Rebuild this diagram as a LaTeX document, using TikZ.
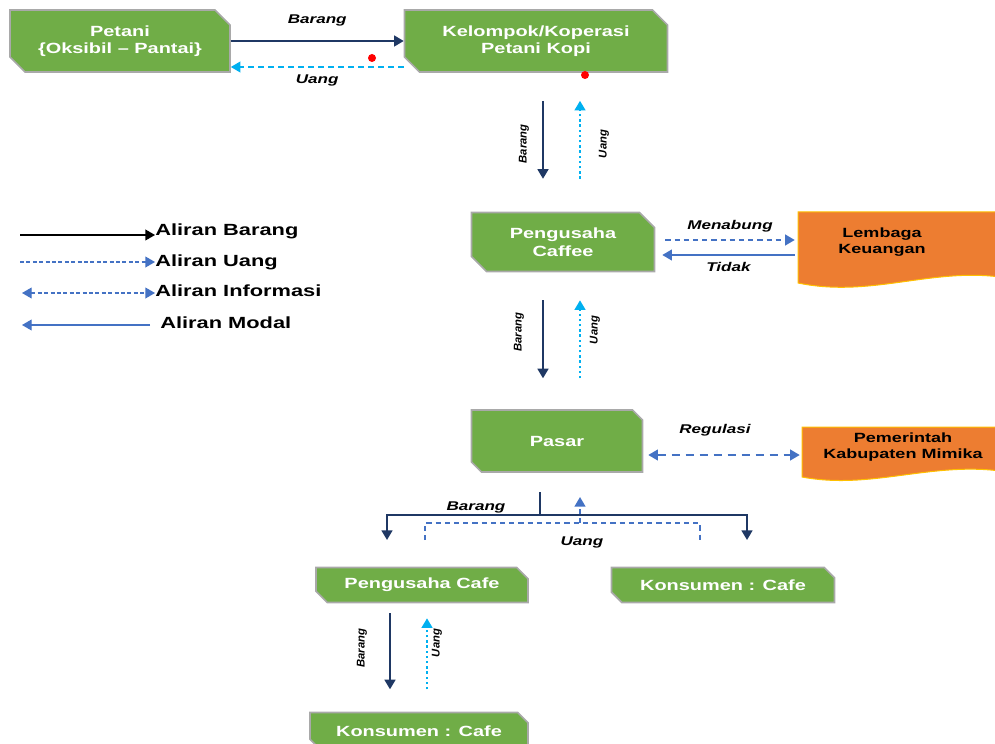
\documentclass[tikz,border=0pt]{standalone}
\usepackage{fontspec}
\setmainfont[FakeStretch=1.35]{Liberation Sans}
\newfontfamily\narrowfont{Liberation Sans}
\usetikzlibrary{shapes.misc,arrows.meta,calc,backgrounds}
\definecolor{boxgreen}{HTML}{70AD47}
\definecolor{boxgray}{HTML}{A9A9A9}
\definecolor{boxorange}{HTML}{ED7D31}
\definecolor{boxyellow}{HTML}{FFC000}
\definecolor{navy}{HTML}{1F3864}
\definecolor{cyanline}{HTML}{00B0F0}
\definecolor{blueline}{HTML}{4472C4}
\tikzset{
  greenbox/.style={chamfered rectangle, chamfered rectangle corners={north east,south west},
    chamfered rectangle xsep=2.5mm, fill=boxgreen, draw=boxgray, line width=0.4mm,
    text=white, font=\fontsize{10.5}{12.5}\selectfont\bfseries, align=center, inner sep=0pt},
  orangetext/.style={font=\fontsize{9.5}{11.5}\selectfont\bfseries, align=center, inner sep=0pt},
  docbox/.style={fill=boxorange, draw=boxyellow, line width=0.25mm},
  tip/.style={-{Triangle[length=2.4mm,width=2.7mm]}},
  barang/.style={draw=navy, line width=0.5mm, tip},
  uang/.style={draw=cyanline, line width=0.4mm, dash pattern=on 1.5mm off 1mm, tip},
  uangdot/.style={draw=cyanline, line width=0.5mm, dash pattern=on 0.6mm off 0.7mm, tip},
  info/.style={draw=blueline, line width=0.4mm, dash pattern=on 1.3mm off 1mm,
    {Triangle[length=2.4mm,width=2.7mm]}-{Triangle[length=2.4mm,width=2.7mm]}},
  modal/.style={draw=blueline, line width=0.4mm, tip},
  flowlabel/.style={font=\fontsize{9}{10}\selectfont\bfseries\itshape, inner sep=0pt},
  sidelabel/.style={font=\narrowfont\fontsize{8}{9}\selectfont\bfseries\itshape, rotate=90, inner sep=0pt},
  legendtext/.style={font=\fontsize{11.5}{13}\selectfont\bfseries, anchor=west, inner sep=0pt},
}
\begin{document}
\begin{tikzpicture}[x=0.25mm,y=-0.25mm]
\useasboundingbox (0,0) rectangle (995,744);
% boxes
\node[greenbox, minimum width=55mm, minimum height=15.5mm] (petani) at (120,41) {Petani\\\{Oksibil – Pantai\}};
\node[greenbox, minimum width=65.75mm, minimum height=15.5mm] (kelompok) at (536,41) {Kelompok/Koperasi\\Petani Kopi};
\node[greenbox, minimum width=45.75mm, minimum height=14.75mm] (caffee) at (563,242) {Pengusaha\\Caffee};
\node[greenbox, minimum width=42.75mm, minimum height=15.5mm] (pasar) at (557,441) {Pasar};
\node[greenbox, chamfered rectangle xsep=1.6mm, minimum width=53mm, minimum height=8.75mm] (cafe) at (422,585) {Pengusaha Cafe};
\node[greenbox, chamfered rectangle xsep=1.6mm, minimum width=55.75mm, minimum height=8.75mm] (konsumen) at (723,585) {Konsumen : Cafe};
\node[greenbox, chamfered rectangle xsep=1.6mm, minimum width=54.5mm, minimum height=9.25mm] (konsumen2) at (419,731) {Konsumen : Cafe};
\node[orangetext, minimum width=42mm, minimum height=15mm] (lembaga) at (882,242) {Lembaga\\Keuangan};
\node[orangetext, minimum width=50.5mm, minimum height=12mm] (pemerintah) at (903,447) {Pemerintah\\Kabupaten Mimika};
\begin{scope}[on background layer]
  \draw[docbox] (798,212) -- (1000,212) -- (1000,277) .. controls (930,268) and (870,298) .. (798,283) -- cycle;
  \draw[docbox] (802,427) -- (1000,427) -- (1000,471) .. controls (930,462) and (870,490) .. (802,477) -- cycle;
\end{scope}

% petani - kelompok
\draw[barang] (petani.east) -- node[flowlabel, above=10pt] {Barang} (kelompok.west);
\draw[uang] ($(kelompok.west)+(0,26)$) -- node[flowlabel, below=5pt] {Uang} ($(petani.east)+(0,26)$);
\fill[red] (372,58) circle[radius=1mm];
\fill[red] (585,75) circle[radius=1mm];

% kelompok - caffee
\draw[barang] (kelompok.south) ++(7,28) -- ++(0,78);
\draw[uangdot] (kelompok.south) ++(44,106) -- ++(0,-78);
\node[sidelabel] (brg1) at (524,144) {Barang};
\node[sidelabel] (ung1) at (604,144) {Uang};

% caffee - lembaga
\draw[info, tip] ($(caffee.east)+(10,-2)$) -- node[flowlabel, above=5pt] {Menabung} ($(lembaga.west)+(-3,-2)$);
\draw[modal] ($(lembaga.west)+(-3,13)$) -- node[flowlabel, below=5pt] {Tidak} ($(caffee.east)+(7,13)$);

% caffee - pasar
\draw[barang] (caffee.south) ++(-20,28) -- ++(0,78);
\draw[uangdot] (caffee.south) ++(17,106) -- ++(0,-78);
\node[sidelabel] (brg2) at (519,332) {Barang};
\node[sidelabel] (ung2) at (595,330) {Uang};

% pasar - pemerintah
\draw[info, dash pattern=on 2mm off 1.5mm] ($(pasar.east)+(5,14)$) -- ($(pemerintah.west)+(-2,8)$);
\node[flowlabel] (regulasi) at (715,430) {Regulasi};

% pasar - cafe / konsumen
\coordinate (brg top) at (540,492);
\coordinate (brg mid) at (540,515);
\coordinate (brg left) at (387,540);
\coordinate (brg right) at (747,540);
\draw[draw=navy, line width=0.5mm] (brg top) -- (brg mid);
\draw[barang, {Triangle[length=2.4mm,width=2.7mm]}-{Triangle[length=2.4mm,width=2.7mm]}] (brg left) |- (brg mid) -| (brg right);
\node[flowlabel] (brg3) at (476,507) {Barang};
\coordinate (ung left) at (425,540);
\coordinate (ung mid) at (580,523);
\coordinate (ung right) at (700,540);
\draw[info, -] (ung left) |- (ung mid) -| (ung right);
\draw[info, tip] (ung mid) -- ++(0,-26);
\node[flowlabel] (ung3) at (582,542) {Uang};

% cafe - konsumen
\draw[barang] (cafe.south) ++(-32,10) -- ++(0,76);
\draw[uangdot] (cafe.south) ++(5,86) -- ++(0,-71);
\node[sidelabel] (brg4) at (362,648) {Barang};
\node[sidelabel] (ung4) at (437,643) {Uang};

% legend
\node[legendtext] (lg barang) at (155,231) {Aliran Barang};
\node[legendtext] (lg uang) at (155,262) {Aliran Uang};
\node[legendtext] (lg info) at (155,291) {Aliran Informasi};
\node[legendtext] (lg modal) at (160,323) {Aliran Modal};
\coordinate (lg1) at (20,235);
\coordinate (lg2) at (20,262);
\coordinate (lg3) at (22,293);
\coordinate (lg4) at (22,325);
\draw[line width=0.3mm, tip] (lg1) -- (lg1 -| lg barang.west);
\draw[draw=blueline, line width=0.3mm, dash pattern=on 1mm off 0.6mm, tip] (lg2) -- (lg2 -| lg barang.west);
\draw[info, line width=0.3mm, dash pattern=on 1mm off 0.6mm] (lg3) -- (lg3 -| lg barang.west);
\draw[modal, line width=0.3mm] ($(lg4 -| lg modal.west)+(-10,0)$) -- (lg4);
\end{tikzpicture}
\end{document}
